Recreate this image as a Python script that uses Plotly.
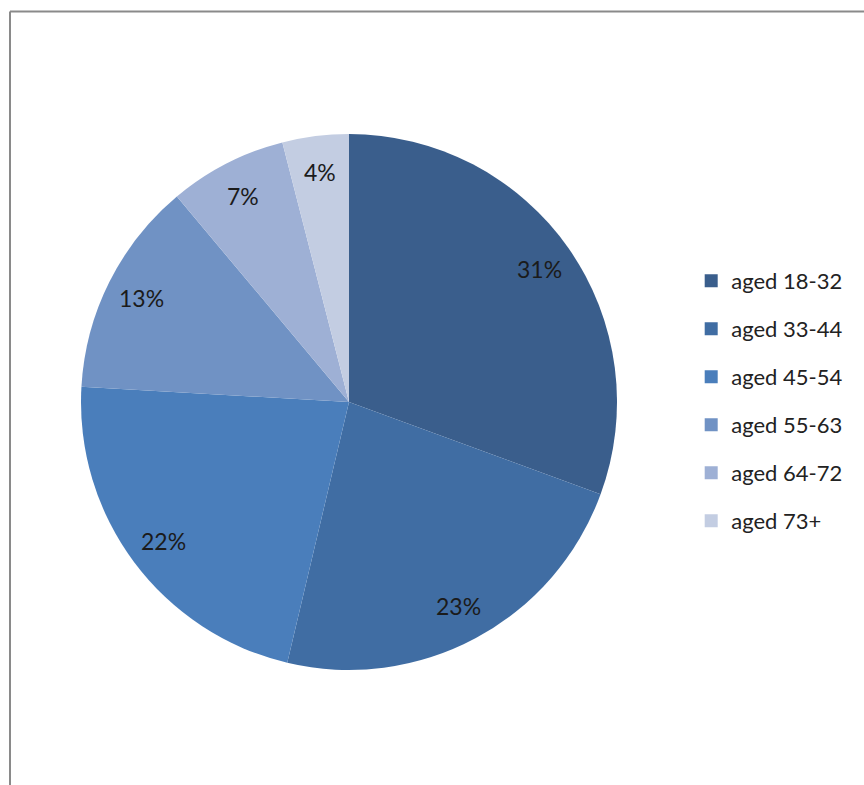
import math
import plotly.graph_objects as go

categories = ["aged 18-32", "aged 33-44", "aged 45-54", "aged 55-63", "aged 64-72", "aged 73+"]
values = [30.6, 23.1, 22.2, 13.0, 7.1, 4.0]
colors = ["#3A5E8C", "#406DA3", "#4A7EBB", "#7092C4", "#9EB0D5", "#C3CDE2"]

W, H = 864, 785
CX, CY, R = 349, 402, 268
LABEL_R = 0.865

fig = go.Figure()
fig.add_trace(go.Pie(
    labels=categories, values=values, sort=False, direction="clockwise", rotation=0,
    marker=dict(colors=colors, line=dict(width=0)),
    textinfo="none",
    domain=dict(x=[(CX - R) / W, (CX + R) / W], y=[1 - (CY + R) / H, 1 - (CY - R) / H]),
    showlegend=False, hoverinfo="label+percent",
))

# percentage labels placed at slice mid-angles (derived from values)
total = sum(values)
cum = 0
annotations = []
for v in values:
    mid = (cum + v / 2) / total * 2 * math.pi
    cum += v
    px = CX + LABEL_R * R * math.sin(mid)
    py = CY - LABEL_R * R * math.cos(mid)
    annotations.append(dict(
        x=px / W, y=1 - py / H, xref="paper", yref="paper", showarrow=False,
        text=f"{int(v / total * 100 + 0.5)}%",
        font=dict(family="Lato", size=23, color="#1b1b1b"),
        xanchor="center", yanchor="middle",
    ))

for cat, col in zip(categories, colors):
    fig.add_trace(go.Scatter(
        x=[None], y=[None], mode="markers", name=cat, legendgroup=cat,
        marker=dict(symbol="square", size=13, color=col),
    ))
fig.update_layout(
    width=W, height=H, margin=dict(l=0, r=0, t=0, b=0),
    paper_bgcolor="white", plot_bgcolor="white",
    xaxis=dict(visible=False), yaxis=dict(visible=False),
    showlegend=True,
    legend=dict(x=0.80, y=1 - 260 / H, xanchor="left", yanchor="top",
                font=dict(family="Lato", size=22, color="#222222"),
                tracegroupgap=16.4, bgcolor="rgba(0,0,0,0)"),
    annotations=annotations,
    shapes=[
        dict(type="line", xref="paper", yref="paper", x0=10 / W, x1=1, y0=1 - 11.5 / H, y1=1 - 11.5 / H,
             line=dict(color="#8a8a8a", width=2)),
        dict(type="line", xref="paper", yref="paper", x0=10 / W, x1=10 / W, y0=0, y1=1 - 11.5 / H,
             line=dict(color="#8a8a8a", width=2)),
    ],
)
fig.write_html("out.html")
